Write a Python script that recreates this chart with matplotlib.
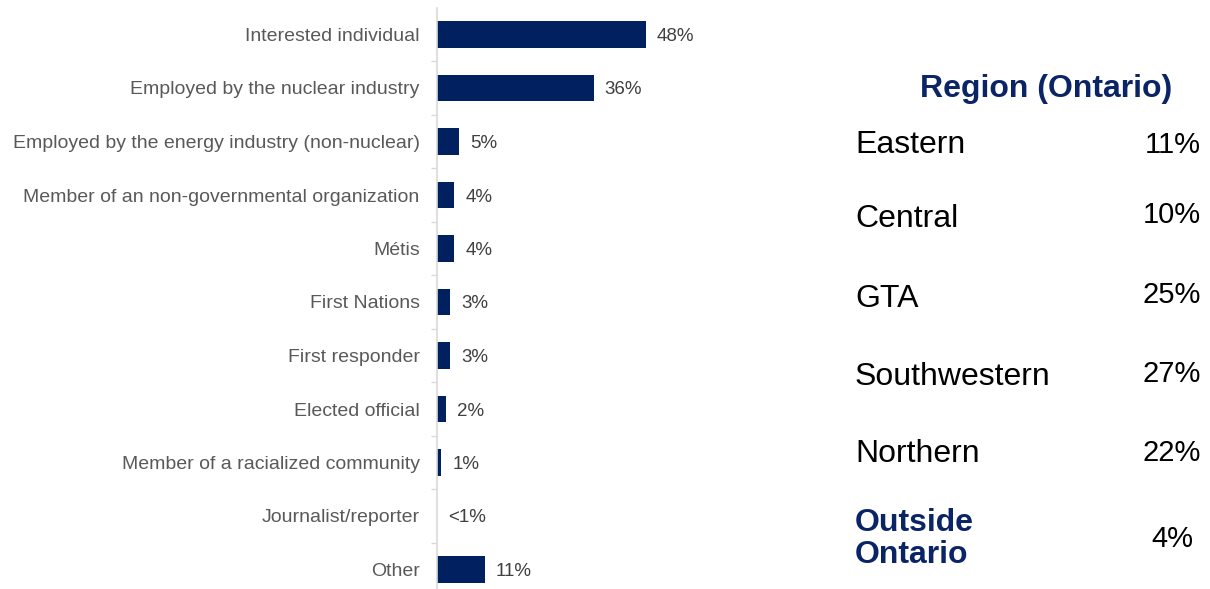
import matplotlib
matplotlib.use("Agg")
import matplotlib.pyplot as plt
import numpy as np

plt.rcParams['font.family'] = ['Liberation Sans', 'DejaVu Sans']

# ---- data ----
categories = [
    "Interested individual",
    "Employed by the nuclear industry",
    "Employed by the energy industry (non-nuclear)",
    "Member of an non-governmental organization",
    "Métis",
    "First Nations",
    "First responder",
    "Elected official",
    "Member of a racialized community",
    "Journalist/reporter",
    "Other",
]
values = [48, 36, 5, 4, 4, 3, 3, 2, 1, 0, 11]
value_labels = ["48%", "36%", "5%", "4%", "4%", "3%", "3%", "2%", "1%", "<1%", "11%"]

region_title = "Region (Ontario)"
regions = ["Eastern", "Central", "GTA", "Southwestern", "Northern", "Outside\nOntario"]
region_values = ["11%", "10%", "25%", "27%", "22%", "4%"]

# ---- styles ----
W, H = 1210, 589
BAR = "#002060"
NAVY = "#0B2466"
GRID = "#D9D9D9"
LABEL = "#595959"
VAL = "#404040"

fig = plt.figure(figsize=(W / 100, H / 100), dpi=100)

def fx(x):
    return x / W

def fy(y):
    return 1 - y / H

# axes geometry (pixels)
row = 53.5
first_center = 34.5
top_px = first_center - row / 2
bot_px = first_center + row * (len(categories) - 0.5)
left_px = 437
width_px = 399
px_per_pct = 4.35

ax = fig.add_axes([fx(left_px), fy(bot_px), width_px / W, (bot_px - top_px) / H])
y = np.arange(len(categories))
ax.barh(y, values, height=0.5, color=BAR)
ax.set_xlim(0, width_px / px_per_pct)
ax.set_ylim(len(categories) - 0.5, -0.5)

for s in ["top", "right", "bottom"]:
    ax.spines[s].set_visible(False)
ax.spines["left"].set_color(GRID)
ax.spines["left"].set_linewidth(1.2)
ax.set_xticks([])
ax.set_yticks(y)
ax.set_yticklabels(categories, fontsize=14, color=LABEL)
ax.tick_params(axis="y", which="major", length=0, pad=12.5)
ax.set_yticks(np.arange(0.5, len(categories) - 0.5, 1), minor=True)
ax.tick_params(axis="y", which="minor", length=4.5, width=1.0, color=GRID)

for yi, v, lab in zip(y, values, value_labels):
    ax.annotate(lab, xy=(v, yi), xytext=(8, 0), textcoords="offset points",
                va="center_baseline", ha="left", fontsize=13.5, color=VAL)

# ---- right panel ----
fig.text(fx(1046), fy(97), region_title, fontsize=23, fontweight="bold",
         color=NAVY, ha="center", va="baseline")

label_baselines = [153, 227, 307, 385, 462]
value_baselines = [153, 223, 303, 382, 461]
for name, val, lb, vb in zip(regions[:-1], region_values[:-1], label_baselines, value_baselines):
    fig.text(fx(855), fy(lb), name, fontsize=23, color="black", ha="left", va="baseline")
    fig.text(fx(1201), fy(vb), val, fontsize=21, color="black", ha="right", va="baseline")

out_lines = regions[-1].split("\n")
fig.text(fx(855), fy(531), out_lines[0], fontsize=23, fontweight="bold",
         color=NAVY, ha="left", va="baseline")
fig.text(fx(855), fy(563), out_lines[1], fontsize=23, fontweight="bold",
         color=NAVY, ha="left", va="baseline")
fig.text(fx(1193), fy(547), region_values[-1], fontsize=21, color="black",
         ha="right", va="baseline")

fig.savefig("out.png", dpi=100)
